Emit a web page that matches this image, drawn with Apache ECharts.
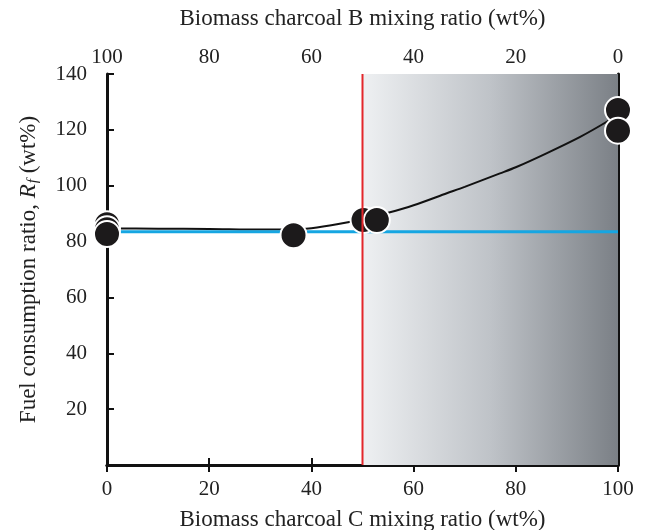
<!DOCTYPE html>
<html>
<head>
<meta charset="utf-8">
<script src="https://cdn.jsdelivr.net/npm/echarts@6/dist/echarts.min.js"></script>
<style>html,body{margin:0;padding:0;background:#fff}#c{width:648px;height:530px}</style>
</head>
<body>
<div id="c"></div>
<script>
// Measured points: Biomass charcoal C ratio (wt%) vs fuel consumption ratio Rf (wt%)
const pointX = [0, 0, 0, 36.5, 50.2, 52.8, 100, 100];
const pointY = [86.2, 84.4, 82.7, 82.3, 87.7, 87.7, 127.1, 119.7];
// Fitted curve
const curveX = [0, 10, 20, 30, 36.5, 40, 45, 50, 55, 60, 66.5, 70, 76.9, 80, 86, 92.6, 97.8, 100];
const curveY = [84.7, 84.6, 84.5, 84.3, 84.3, 84.8, 86.2, 88.0, 90.3, 93.0, 97.3, 99.6, 104.4, 106.6, 111.6, 117.5, 122.9, 125.6];
// Reference lines
const baselineY = [83.5];
const splitX = [50];
const shadeRange = [50, 100];
const yTicks = [20, 40, 60, 80, 100, 120, 140];

const font = 'Liberation Serif';
const chart = echarts.init(document.getElementById('c'));
const axisLine = { show: true, lineStyle: { color: '#111', width: 3 } };

chart.setOption({
  animation: false,
  backgroundColor: '#fff',
  grid: { left: 107, right: 30, top: 74, bottom: 65, containLabel: false, outerBoundsMode: 'none' },
  xAxis: [
    {
      type: 'value', position: 'bottom', min: 0, max: 100, interval: 20,
      name: 'Biomass charcoal C mixing ratio (wt%)', nameLocation: 'middle', nameGap: 43,
      nameTextStyle: { fontFamily: font, fontSize: 23, color: '#222' },
      axisLine: axisLine,
      axisTick: { show: true, inside: true, length: 7, lineStyle: { color: '#111', width: 2 } },
      axisLabel: { fontFamily: font, fontSize: 21, color: '#222', margin: 14 },
      splitLine: { show: false }
    },
    {
      type: 'value', position: 'top', min: 0, max: 100, interval: 20, inverse: true,
      name: 'Biomass charcoal B mixing ratio (wt%)', nameLocation: 'middle', nameGap: 44,
      nameTextStyle: { fontFamily: font, fontSize: 23, color: '#222' },
      axisLine: axisLine,
      axisTick: { show: true, inside: true, length: 7, lineStyle: { color: '#111', width: 2 } },
      axisLabel: { fontFamily: font, fontSize: 21, color: '#222', margin: 6 },
      splitLine: { show: false }
    }
  ],
  yAxis: [
    {
      type: 'value', position: 'left', min: 0, max: 140, interval: 20,
      name: '{a|Fuel consumption ratio, }{i|R}{s|f}{a| (wt%)}', nameLocation: 'middle', nameGap: 66,
      nameTextStyle: {
        fontFamily: font, fontSize: 23, color: '#222',
        rich: {
          a: { fontFamily: font, fontSize: 23, color: '#222', lineHeight: 25 },
          i: { fontFamily: font, fontSize: 23, color: '#222', fontStyle: 'italic', lineHeight: 25 },
          s: { fontFamily: font, fontSize: 15, color: '#222', fontStyle: 'italic', lineHeight: 15, padding: [10, 0, 0, 1] }
        }
      },
      axisLine: axisLine,
      axisTick: { show: true, inside: true, length: 7, lineStyle: { color: '#111', width: 2 } },
      axisLabel: {
        fontFamily: font, fontSize: 21, color: '#222', margin: 20,
        formatter: v => (yTicks.indexOf(v) >= 0 ? String(v) : '')
      },
      splitLine: { show: false }
    },
    {
      type: 'value', position: 'right', min: 0, max: 140, interval: 20,
      axisLine: axisLine, axisTick: { show: false }, axisLabel: { show: false }, splitLine: { show: false }
    }
  ],
  series: [
    {
      type: 'line', xAxisIndex: 0, yAxisIndex: 0, data: [], symbol: 'none', silent: true, z: 1,
      markArea: {
        silent: true,
        itemStyle: {
          color: { type: 'linear', x: 0, y: 0, x2: 1, y2: 0,
            colorStops: [
              { offset: 0, color: '#eef0f2' },
              { offset: 0.5, color: '#bfc3c8' },
              { offset: 1, color: '#7b8086' }
            ] }
        },
        data: [[{ xAxis: shadeRange[0], yAxis: 0 }, { xAxis: shadeRange[1], yAxis: 140 }]]
      }
    },
    {
      type: 'line', name: 'curve', xAxisIndex: 0, yAxisIndex: 0, z: 3,
      data: curveX.map((x, i) => [x, curveY[i]]),
      smooth: 0.3, symbol: 'none', lineStyle: { color: '#111', width: 2 }
    },
    {
      type: 'line', name: 'baseline', xAxisIndex: 0, yAxisIndex: 0, z: 3,
      data: [[0, baselineY[0]], [100, baselineY[0]]],
      symbol: 'none', lineStyle: { color: '#16a6e2', width: 3 }
    },
    {
      type: 'scatter', name: 'Rf', xAxisIndex: 0, yAxisIndex: 0, z: 5,
      data: pointX.map((x, i) => [x, pointY[i]]),
      symbol: 'circle', symbolSize: 26,
      itemStyle: { color: '#1c1a1b', opacity: 1, borderColor: '#ffffff', borderWidth: 2 }
    },
    {
      type: 'line', name: 'split', xAxisIndex: 0, yAxisIndex: 0, z: 6,
      data: [[splitX[0], 0], [splitX[0], 140]],
      symbol: 'none', lineStyle: { color: '#e3262b', width: 2 }
    }
  ]
});
</script>
</body>
</html>
